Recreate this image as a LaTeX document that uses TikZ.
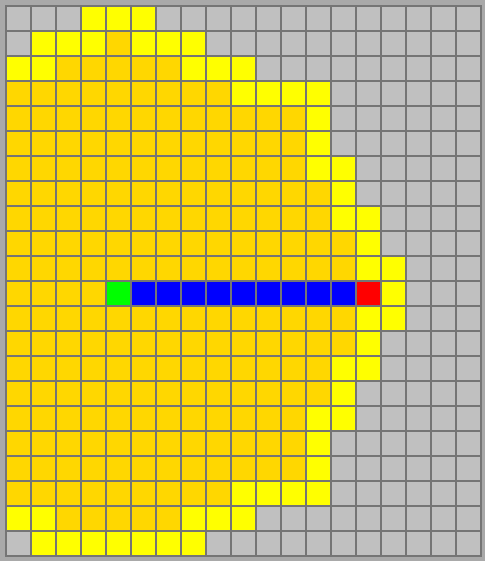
\documentclass[tikz,border=0pt]{standalone}
\definecolor{bgc}{HTML}{A9A9A9}
\definecolor{cellgray}{HTML}{C0C0C0}
\definecolor{gridc}{HTML}{757575}
\definecolor{cY}{HTML}{FFFF00}
\definecolor{cO}{HTML}{FFD700}
\definecolor{cG}{HTML}{00FF00}
\definecolor{cB}{HTML}{0000FF}
\definecolor{cR}{HTML}{FF0000}
\tikzset{gridline/.style={draw=gridc, line width=1.8pt, line cap=rect}}
\begin{document}
\begin{tikzpicture}[x=1pt,y=1pt]
\fill[bgc] (0,0) rectangle (485,-561);
\useasboundingbox (0,0) rectangle (485,-561);
\begin{scope}[shift={(5.7,-5.7)}, x=25pt, y=-25pt]
  \fill[cellgray] (0,0) rectangle (19,22);
  % gold
  \foreach \r/\a/\b in {1/4/4,2/2/6,3/0/8,4/0/11,5/0/11,6/0/11,7/0/12,8/0/12,9/0/13,10/0/13,11/0/3,12/0/13,13/0/13,14/0/12,15/0/12,16/0/11,17/0/11,18/0/11,19/0/8,20/2/6}
    \fill[cO] (\a,\r) rectangle ({\b+1},{\r+1});
  % yellow
  \foreach \r/\a/\b in {0/3/5,1/1/3,1/5/7,2/0/1,2/7/9,3/9/12,4/12/12,5/12/12,6/12/13,7/13/13,8/13/14,9/14/14,10/14/15,11/15/15,12/14/15,13/14/14,14/13/14,15/13/13,16/12/13,17/12/12,18/12/12,19/9/12,20/0/1,20/7/9,21/1/7}
    \fill[cY] (\a,\r) rectangle ({\b+1},{\r+1});
  \fill[cG] (4,11) rectangle (5,12);
  \fill[cB] (5,11) rectangle (14,12);
  \fill[cR] (14,11) rectangle (15,12);
  \foreach \c in {0,...,19} \draw[gridline] (\c,0) -- (\c,22);
  \foreach \r in {0,...,22} \draw[gridline] (0,\r) -- (19,\r);
\end{scope}
\end{tikzpicture}
\end{document}
